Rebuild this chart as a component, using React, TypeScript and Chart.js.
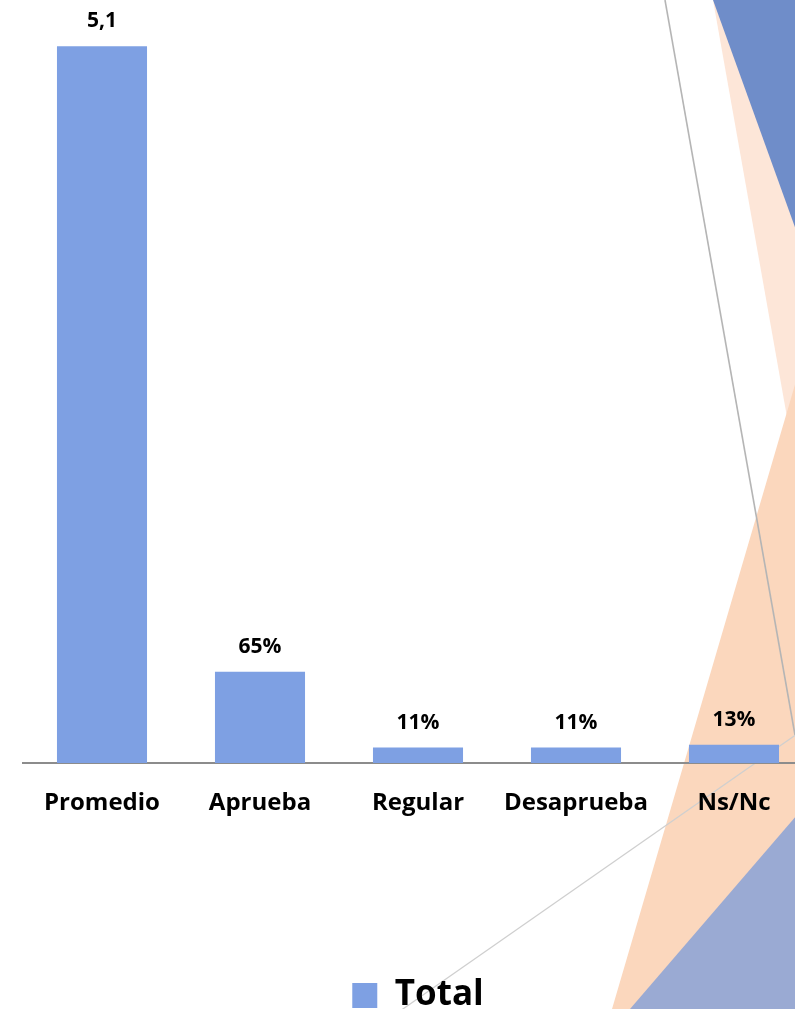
import React, { useEffect, useRef } from "react";
import { Chart, registerables } from "chart.js";
Chart.register(...registerables);

const categories = ["Promedio", "Aprueba", "Regular", "Desaprueba", "Ns/Nc"];
const totalValues = [5.1, 0.65, 0.11, 0.11, 0.13];
const valueLabels = ["5,1", "65%", "11%", "11%", "13%"];
const seriesName = "Total";

const W = 840;
const H = 1040;
const FONT = "'Open Sans', 'DejaVu Sans', sans-serif";

const backgroundPlugin = {
  id: "slideBackground",
  beforeDraw(chart: any) {
    const ctx = chart.ctx;
    ctx.save();
    ctx.fillStyle = "#ffffff";
    ctx.fillRect(0, 0, chart.width, chart.height);
    const poly = (pts: number[][], color: string) => {
      ctx.beginPath();
      ctx.moveTo(pts[0][0], pts[0][1]);
      for (let i = 1; i < pts.length; i++) ctx.lineTo(pts[i][0], pts[i][1]);
      ctx.closePath();
      ctx.fillStyle = color;
      ctx.fill();
    };
    poly([[713, 0], [W, 0], [W, 716]], "#fde6d8");
    poly([[612, 1009], [W, 231], [W, H], [600, H]], "#fbd7bd");
    poly([[713, 0], [W, 0], [W, 352]], "#6f8dc9");
    poly([[630, 1009], [W, 765], [W, H], [620, H]], "#9aaad3");
    ctx.strokeStyle = "#b5b5b5";
    ctx.lineWidth = 1.6;
    ctx.beginPath();
    ctx.moveTo(665, 0);
    ctx.lineTo(795, 735);
    ctx.stroke();
    ctx.strokeStyle = "#cfcfcf";
    ctx.lineWidth = 1.3;
    ctx.beginPath();
    ctx.moveTo(840, 704);
    ctx.lineTo(380, 1025);
    ctx.stroke();
    ctx.restore();
  },
};

const valueLabelPlugin = {
  id: "valueLabels",
  afterDatasetsDraw(chart: any) {
    const ctx = chart.ctx;
    const meta = chart.getDatasetMeta(0);
    ctx.save();
    ctx.font = `bold 21px ${FONT}`;
    ctx.fillStyle = "#000000";
    ctx.textAlign = "center";
    ctx.textBaseline = "middle";
    meta.data.forEach((bar: any, i: number) => {
      ctx.fillText(valueLabels[i], bar.x, bar.y - 25);
    });
    ctx.restore();
  },
};

export default function App() {
  const ref = useRef<HTMLCanvasElement | null>(null);
  useEffect(() => {
    if (!ref.current) return;
    const chart = new Chart(ref.current, {
      type: "bar",
      data: {
        labels: categories,
        datasets: [
          {
            label: seriesName,
            data: totalValues,
            backgroundColor: "#7ea0e3",
            borderWidth: 0,
            categoryPercentage: 1,
            barPercentage: 0.57,
          },
        ],
      },
      options: {
        animation: false,
        responsive: false,
        devicePixelRatio: 1,
        layout: { padding: { left: 23, right: W - 813, top: 4, bottom: 17 } },
        scales: {
          y: { display: false, min: 0, max: 5.4 },
          x: {
            grid: { display: false, drawTicks: false },
            border: { display: true, color: "#8c8c8c", width: 2 },
            ticks: {
              color: "#000000",
              padding: 26,
              font: { family: FONT, size: 24, weight: "bold" },
            },
            afterFit: (scale: any) => {
              scale.height = 205;
            },
          },
        },
        plugins: {
          tooltip: { enabled: false },
          legend: {
            position: "bottom",
            labels: {
              color: "#000000",
              boxWidth: 25,
              boxHeight: 25,
              padding: 10,
              font: { family: FONT, size: 35, weight: "bold" },
            },
          },
        },
      },
      plugins: [backgroundPlugin, valueLabelPlugin],
    });
    return () => chart.destroy();
  }, []);
  return (
    <div style={{ position: "absolute", left: 0, top: 0, width: 795, height: 1009, overflow: "hidden" }}>
      <canvas ref={ref} width={W} height={H} style={{ display: "block", width: W, height: H }} />
    </div>
  );
}
